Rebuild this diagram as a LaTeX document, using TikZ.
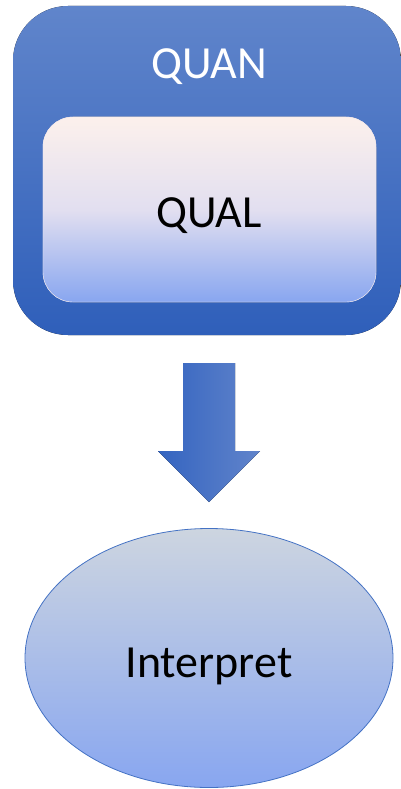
\documentclass[tikz,border=0pt]{standalone}
\usepackage{fontspec}
\setmainfont{Carlito}
\usetikzlibrary{shapes.geometric}
\definecolor{outerTop}{HTML}{6085CB}
\definecolor{outerBot}{HTML}{2F5FBA}
\definecolor{innerTop}{HTML}{FCF0EC}
\definecolor{innerMid}{HTML}{E2DFF0}
\definecolor{innerBot}{HTML}{88A6F0}
\definecolor{ellTop}{HTML}{CDD5E0}
\definecolor{ellBot}{HTML}{88A6F0}
\definecolor{edgeBlue}{HTML}{4472C4}
\definecolor{arrLeft}{HTML}{3464C0}
\definecolor{arrRight}{HTML}{6184CB}
\tikzset{
  outerbox/.style={draw=none, rounded corners=55pt, top color=outerTop, bottom color=outerBot},
  innerbox/.style={draw=innerTop!60!innerMid, line width=0.4pt, rounded corners=30pt, top color=innerTop, bottom color=innerBot, middle color=innerMid},
  lbl/.style={font=\fontsize{46}{50}\selectfont, inner sep=0pt},
  ellnode/.style={ellipse, draw=edgeBlue, line width=0.8pt, minimum width=368pt, minimum height=259pt, top color=ellTop, bottom color=ellBot},
  bigarrow/.style={draw=none, left color=arrLeft, right color=arrRight}
}
\begin{document}
\begin{tikzpicture}[x=1pt, y=-1pt]
\useasboundingbox (0,0) rectangle (401,789);
\fill[outerbox] (13,6) rectangle (401,335);
\node[lbl, white, anchor=base] (quan) at (209,79) {QUAN};
\fill[innerbox] (43,117) rectangle (376,302);
\draw[innerbox] (43,117) rectangle (376,302);
\node[lbl, black, anchor=base] (qual) at (209,227) {QUAL};
\fill[bigarrow] (183,363) -- (235,363) -- (235,451) -- (260,451) -- (209,502) -- (158,451) -- (183,451) -- cycle;
\node[ellnode] (interp) at (209,658) {};
\node[lbl, black, anchor=base] (interptext) at (209,677) {Interpret};
\end{tikzpicture}
\end{document}
